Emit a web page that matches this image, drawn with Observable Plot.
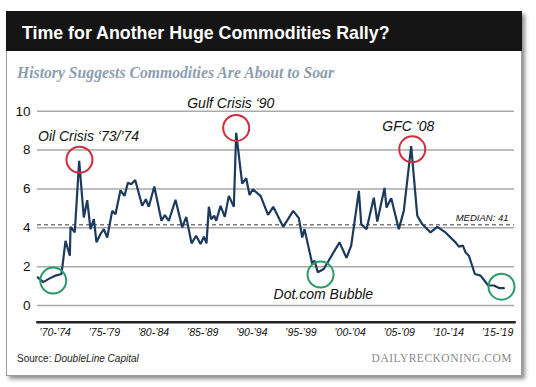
<!DOCTYPE html>
<html>
<head>
<meta charset="utf-8">
<script src="https://cdn.jsdelivr.net/npm/d3@7"></script>
<script src="https://cdn.jsdelivr.net/npm/@observablehq/plot@0.6"></script>
<style>
  html, body { margin: 0; padding: 0; background: #fff; width: 536px; height: 387px; overflow: hidden; }
  .abs { position: absolute; white-space: nowrap; line-height: 1; }
  #box { position: absolute; left: 6px; top: 11px; width: 514px; height: 363px; border: 1px solid #9a9a9a; background: #fff; box-shadow: 3px 3px 4px rgba(0,0,0,0.45); }
  #header { position: absolute; left: 6px; top: 11px; width: 516px; height: 40px; background: #151515; }
  #title { left: 22px; top: 23px; font: bold 17.8px "Liberation Sans", Arial, sans-serif; color: #fff; }
  #subtitle { left: 17px; top: 63.6px; font: italic bold 15.7px "Liberation Serif", "Times New Roman", serif; color: #8c9db0; }
  #source { left: 17px; top: 352.5px; font: 10px "Liberation Sans", Arial, sans-serif; color: #222; }
  #brand { right: 24px; top: 352.4px; font: 11.5px "Liberation Serif", "Times New Roman", serif; color: #8a8a8a; letter-spacing: 0.5px; }
  #chart { position: absolute; left: 0; top: 90px; }
</style>
</head>
<body>
<div id="box"></div>
<div id="header"></div>
<div id="title" class="abs">Time for Another Huge Commodities Rally?</div>
<div id="subtitle" class="abs">History Suggests Commodities Are About to Soar</div>
<div id="chart"></div>
<div id="source" class="abs">Source: <i>DoubleLine Capital</i></div>
<div id="brand" class="abs">DAILYRECKONING.COM</div>
<script>
// Commodities-to-equities ratio
const years = [
  1970.74, 1971.29, 1971.86, 1972.54, 1973.15, 1973.56, 1974.00, 1974.07, 1974.50, 1974.95,
  1975.42, 1975.77, 1976.10, 1976.44, 1976.71, 1977.12, 1977.45, 1977.80, 1978.31, 1978.64,
  1979.15, 1979.56, 1979.90, 1980.24, 1980.65, 1981.36, 1981.73, 1982.03, 1982.59, 1983.32,
  1983.66, 1984.07, 1984.75, 1985.43, 1985.84, 1986.38, 1986.85, 1987.29, 1987.63, 1987.90,
  1988.14, 1988.38, 1988.69, 1988.89, 1989.33, 1989.76, 1990.17, 1990.68, 1990.92, 1991.53,
  1991.94, 1992.28, 1992.61, 1993.40, 1994.16, 1994.69, 1995.70, 1996.72, 1997.29, 1997.64,
  1997.87, 1998.66, 1998.89, 1999.22, 1999.83, 2001.43, 2002.14, 2002.62, 2003.40, 2003.64,
  2004.18, 2004.92, 2005.27, 2006.01, 2006.21, 2006.69, 2007.46, 2007.97, 2008.72, 2009.34,
  2009.84, 2010.69, 2011.37, 2012.21, 2013.23, 2013.57, 2013.98, 2014.25, 2014.59, 2015.20,
  2015.78, 2016.56, 2017.13, 2017.71, 2018.15
];
const values = [
  1.45, 1.20, 1.37, 1.54, 1.62, 3.33, 2.56, 4.05, 3.76, 7.44,
  4.53, 5.42, 3.93, 4.44, 3.25, 3.68, 3.93, 3.50, 4.87, 4.70,
  5.93, 5.64, 6.32, 6.24, 6.46, 5.13, 5.47, 5.08, 6.12, 4.36,
  4.65, 4.36, 5.44, 4.02, 4.56, 3.20, 3.59, 3.16, 3.54, 3.20,
  5.08, 4.44, 4.62, 4.36, 5.13, 4.56, 5.64, 5.08, 8.89, 6.27,
  6.55, 5.69, 5.98, 5.64, 4.66, 5.08, 4.05, 4.87, 4.50, 3.50,
  3.93, 2.14, 2.31, 1.71, 1.88, 3.25, 2.45, 3.08, 5.90, 4.19,
  3.93, 5.55, 4.32, 6.05, 5.04, 5.52, 3.93, 4.87, 8.20, 4.62,
  4.19, 3.76, 4.05, 3.76, 3.25, 3.03, 3.08, 2.73, 2.56, 1.62,
  1.54, 1.03, 1.03, 0.89, 0.89
];
const median = 4.15;

// Highlight circles
const circleYears  = [1974.98, 1990.92, 2008.83, 1972.31, 1999.50, 2017.91];
const circleValues = [7.50, 9.14, 8.04, 1.28, 1.59, 0.97];
const circleKinds  = ["peak", "peak", "peak", "trough", "trough", "trough"];

// Annotations
const noteTexts  = ["Oil Crisis \u201873/\u201974", "Gulf Crisis \u201890", "GFC \u201808", "Dot.com Bubble"];
const noteYears  = [1970.76, 1985.94, 2005.78, 1994.72];
const noteValues = [8.49, 10.19, 8.97, 0.31];
const medianLabel = "MEDIAN: 41";

// Axes
const yTicks = [0, 2, 4, 6, 8, 10];
const xTickLabels = ["\u201970-\u201974", "\u201975-\u201979", "\u201980-\u201984", "\u201985-\u201989", "\u201990-\u201994",
                     "\u201995-\u201999", "\u201900-\u201904", "\u201905-\u201909", "\u201910-\u201914", "\u201915-\u201919"];
const xTickYears = [1972.5, 1977.5, 1982.5, 1987.5, 1992.5, 1997.5, 2002.5, 2007.5, 2012.5, 2017.5];

const series = years.map((t, i) => ({t, v: values[i]}));
const circles = circleYears.map((t, i) => ({t, v: circleValues[i], kind: circleKinds[i]}));
const notes = noteTexts.map((s, i) => ({s, t: noteYears[i], v: noteValues[i]}));

const chart = Plot.plot({
  width: 536,
  height: 260,
  marginLeft: 37,
  marginRight: 22,
  marginTop: 20.7,
  marginBottom: 28.3,
  x: {domain: [1970.71, 2019.23]},
  y: {domain: [-0.86, 10]},
  style: {fontFamily: "'Liberation Sans', Arial, sans-serif", background: "transparent", overflow: "visible"},
  marks: [
    Plot.ruleY(yTicks, {stroke: "#a9a9a9", strokeWidth: 1.5}),
    Plot.ruleY([median], {stroke: "#7a7a7a", strokeWidth: 1.5, strokeDasharray: "4,3"}),
    Plot.frame({anchor: "bottom", stroke: "#222", strokeWidth: 2.5}),
    Plot.line(series, {x: "t", y: "v", stroke: "#1c3a5e", strokeWidth: 2.2, strokeLinejoin: "miter"}),
    Plot.dot(circles, {x: "t", y: "v", r: 13, fill: "none", strokeWidth: 2,
      stroke: d => d.kind === "peak" ? "#cf2e3c" : "#2a9a68"}),
    Plot.text(notes, {x: "t", y: "v", text: "s", textAnchor: "start", lineAnchor: "bottom",
      fontSize: 14, fontStyle: "italic", fill: "#111"}),
    Plot.text([medianLabel], {x: 2018.62, y: 4.34, text: d => d, textAnchor: "end", lineAnchor: "bottom",
      fontSize: 9.5, fontStyle: "italic", fill: "#111"}),
    Plot.axisY(yTicks, {tickSize: 0, tickPadding: 7, fontSize: 13.5, fill: "#111", label: null}),
    Plot.axisX(xTickYears, {tickSize: 0, tickPadding: 6, fontSize: 10.5, fontStyle: "italic", fill: "#111", label: null,
      tickFormat: (d, i) => xTickLabels[i]})
  ]
});
document.getElementById("chart").appendChild(chart);
</script>
</body>
</html>
